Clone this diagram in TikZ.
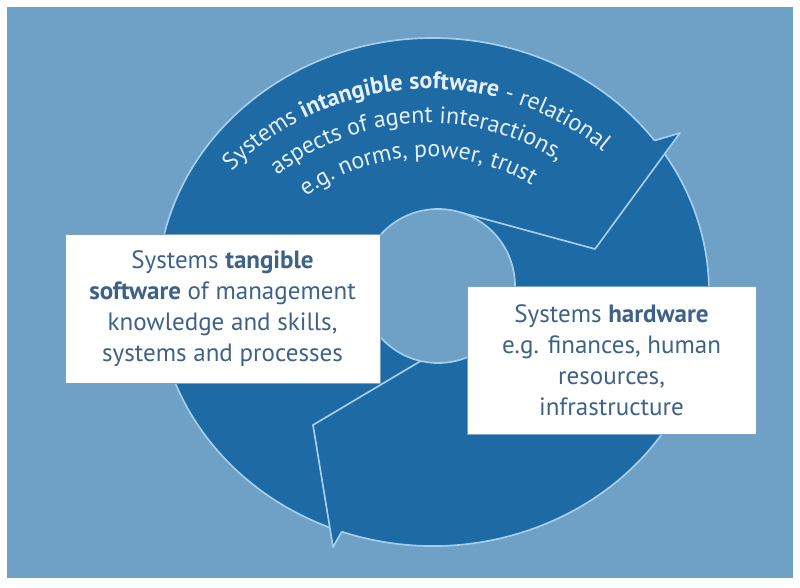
\documentclass[tikz,border=0pt]{standalone}
\usepackage{fontspec}
\setmainfont{PT Sans}
\usetikzlibrary{decorations.text}

\definecolor{bgblue}{HTML}{6FA0C6}
\definecolor{ringblue}{HTML}{1E6AA4}
\definecolor{rimblue}{HTML}{A3CFEF}
\definecolor{boxtext}{HTML}{3E6287}
\definecolor{arctext}{HTML}{E6F0FA}
\newcommand{\arcfont}{\fontsize{17}{20}\selectfont\color{arctext}}

\begin{document}
\begin{tikzpicture}[x=0.025cm, y=0.025cm,
		rim/.style={draw=rimblue, line width=1.2pt, line join=round},
		infobox/.style={draw=rimblue!60!boxtext, line width=0.6pt, fill=white, align=center,
			text=boxtext, font=\fontsize{17.8}{22}\selectfont, inner sep=0pt}]
	\useasboundingbox (0,0) rectangle (800,587);
	\fill[white] (0,0) rectangle (800,587);
	\fill[bgblue] (7,9) rectangle (793,580);

	\coordinate (co) at (433,295);
	\coordinate (ci) at (438,301);
	\coordinate (ca) at (428,223);
	\coordinate (q1) at (680,454);
	\coordinate (p1) at (595,338);
	\coordinate (i1) at (460.5,374.6);
	\coordinate (q2) at (333,40);
	\coordinate (p2) at (313,162);
	\coordinate (i2) at (420.7,226);
	\path (co) ++(36.6:276 and 254) coordinate (e1)
		(co) ++(32.9:276 and 254) coordinate (x1)
		(co) ++(248:276 and 254) coordinate (x2)
		(co) ++(250.7:276 and 254) coordinate (e2);

	\fill[ringblue, even odd rule] (co) ellipse [x radius=276, y radius=254] (ci) circle [radius=77];
	\fill[ringblue] (e1) -- (q1) -- (x1) arc [start angle=32.9, end angle=36.6, x radius=276, y radius=254] -- cycle;
	\fill[ringblue] (x2) -- (q2) -- (e2) arc [start angle=250.7, end angle=248, x radius=276, y radius=254] -- cycle;

	\draw[rim] (e1) arc [start angle=36.6, end angle=248, x radius=276, y radius=254];
	\draw[rim] (e2) arc [start angle=250.7, end angle=392.9, x radius=276, y radius=254];
	\draw[rim] (ci) circle [radius=77];
	\draw[rim] (e1) -- (q1) -- (p1) -- (i1);
	\draw[rim] (i2) -- (p2) -- (q2) -- (e2);

	\path[decorate, decoration={text along path, text align=center,
		text={|\arcfont|Systems |\arcfont\bfseries|intangible software|\arcfont| - relational}}]
		(ca) ++(153:275) arc [start angle=153, end angle=33, radius=275];
	\path[decorate, decoration={text along path, text align=center,
		text={|\arcfont|aspects of agent interactions,}}]
		(ca) ++(153:241) arc [start angle=153, end angle=33, radius=241];
	\path[decorate, decoration={text along path, text align=center,
		text={|\arcfont|e.g. norms, power, trust}}]
		(ca) ++(153:207) arc [start angle=153, end angle=33, radius=207];

	\node[infobox, minimum width=7.875cm, minimum height=3.725cm] (tangible) at (222.5,278.5)
		{Systems \textbf{tangible}\\\textbf{software} of management\\knowledge and skills,\\systems and processes};
	\node[infobox, minimum width=7.225cm, minimum height=3.7cm] (hardware) at (611.5,227)
		{Systems \textbf{hardware}\\e.g. finances, human\\resources,\\infrastructure};
\end{tikzpicture}
\end{document}
